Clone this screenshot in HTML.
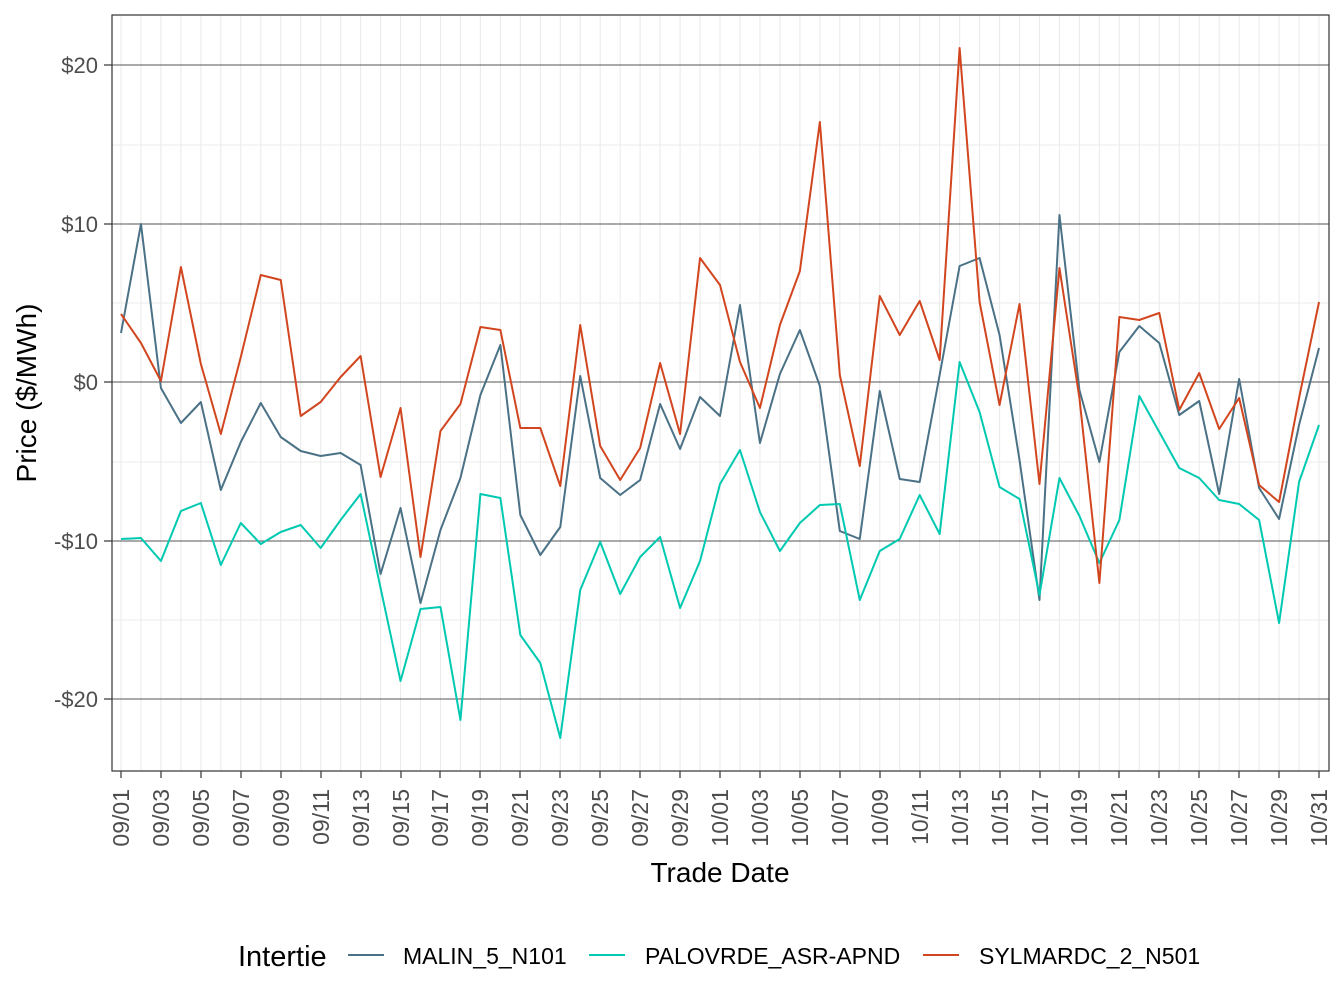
<!DOCTYPE html>
<html><head><meta charset="utf-8"><style>
body{margin:0;background:#fff}
svg{display:block;font-family:"Liberation Sans",Arial,sans-serif}
</style></head><body>
<svg width="1344" height="1008" viewBox="0 0 1344 1008" xmlns="http://www.w3.org/2000/svg">
<rect width="1344" height="1008" fill="#fff"/>
<g stroke="#ebebeb" stroke-width="1.1">
<line x1="112" x2="1329" y1="145" y2="145"/><line x1="112" x2="1329" y1="303" y2="303"/><line x1="112" x2="1329" y1="462" y2="462"/><line x1="112" x2="1329" y1="620" y2="620"/>
</g>
<g id="vg" stroke="#ebebeb" stroke-width="1.1"></g>
<script>
var g=document.getElementById('vg');for(var i=0;i<=60;i++){var x=121+19.967*i;var l=document.createElementNS('http://www.w3.org/2000/svg','line');l.setAttribute('x1',x);l.setAttribute('x2',x);l.setAttribute('y1',15);l.setAttribute('y2',771);g.appendChild(l);}
</script>
<g stroke="#555" stroke-width="0.9">
<line x1="112" x2="1329" y1="65" y2="65"/><line x1="112" x2="1329" y1="224" y2="224"/><line x1="112" x2="1329" y1="382" y2="382"/><line x1="112" x2="1329" y1="541" y2="541"/><line x1="112" x2="1329" y1="699" y2="699"/>
</g>
<g transform="translate(121,0) scale(19.967,1)" fill="none" stroke-width="2" stroke-linejoin="round">
<polyline vector-effect="non-scaling-stroke" stroke="#4a7185" points="0,333 1,224 2,388 3,423 4,402 5,490 6,442 7,403 8,437 9,451 10,456 11,453 12,465 13,574 14,508 15,603 16,530 17,478 18,395 19,345 20,515 21,555 22,527 23,376 24,478 25,495 26,480 27,404 28,449 29,397 30,416 31,305 32,443 33,374 34,330 35,386 36,531 37,539 38,391 39,479 40,482 41,375 42,266 43,258 44,335 45,460 46,600 47,215 48,390 49,462 50,352 51,326 52,343 53,415 54,401 55,494 56,379 57,488 58,519 59,425 60,348"/>
<polyline vector-effect="non-scaling-stroke" stroke="#00c9b1" points="0,539 1,538 2,561 3,511 4,503 5,565 6,523 7,544 8,532 9,525 10,548 11,520 12,494 13,588 14,681 15,609 16,607 17,720 18,494 19,498 20,635 21,663 22,738 23,590 24,542 25,594 26,557 27,537 28,608 29,561 30,484 31,450 32,512 33,551 34,523 35,505 36,504 37,600 38,551 39,539 40,495 41,534 42,362 43,412 44,487 45,499 46,595 47,478 48,516 49,563 50,520 51,396 52,432 53,468 54,478 55,500 56,504 57,520 58,623 59,482 60,425"/>
<polyline vector-effect="non-scaling-stroke" stroke="#d2461f" points="0,314 1,343 2,381 3,267 4,364 5,434 6,357 7,275 8,280 9,416 10,402 11,377 12,356 13,477 14,408 15,557 16,431 17,404 18,327 19,330 20,428 21,428 22,486 23,325 24,446 25,480 26,448 27,363 28,434 29,258 30,285 31,362 32,408 33,325 34,271 35,122 36,375 37,466 38,296 39,335 40,301 41,360 42,48 43,302 44,405 45,304 46,484 47,268 48,398 49,583 50,317 51,320 52,313 53,410 54,373 55,429 56,398 57,485 58,502 59,398 60,302"/>
</g>
<rect x="112" y="15" width="1217" height="756" fill="none" stroke="#333" stroke-width="1.2"/>
<g stroke="#333" stroke-width="1.2">
<line x1="104" x2="112" y1="65" y2="65"/><line x1="104" x2="112" y1="224" y2="224"/><line x1="104" x2="112" y1="382" y2="382"/><line x1="104" x2="112" y1="541" y2="541"/><line x1="104" x2="112" y1="699" y2="699"/>
</g>
<g fill="#4d4d4d" font-size="22" text-anchor="end">
<text x="98" y="73">$20</text><text x="98" y="232">$10</text><text x="98" y="390">$0</text><text x="98" y="549">-$10</text><text x="98" y="707">-$20</text>
</g>
<g stroke="#333" stroke-width="1.2">
<line x1="121" x2="121" y1="771" y2="778"/><line x1="161" x2="161" y1="771" y2="778"/><line x1="201" x2="201" y1="771" y2="778"/><line x1="241" x2="241" y1="771" y2="778"/><line x1="281" x2="281" y1="771" y2="778"/><line x1="321" x2="321" y1="771" y2="778"/><line x1="361" x2="361" y1="771" y2="778"/><line x1="401" x2="401" y1="771" y2="778"/><line x1="440" x2="440" y1="771" y2="778"/><line x1="480" x2="480" y1="771" y2="778"/><line x1="520" x2="520" y1="771" y2="778"/><line x1="560" x2="560" y1="771" y2="778"/><line x1="600" x2="600" y1="771" y2="778"/><line x1="640" x2="640" y1="771" y2="778"/><line x1="680" x2="680" y1="771" y2="778"/><line x1="720" x2="720" y1="771" y2="778"/><line x1="760" x2="760" y1="771" y2="778"/><line x1="800" x2="800" y1="771" y2="778"/><line x1="840" x2="840" y1="771" y2="778"/><line x1="880" x2="880" y1="771" y2="778"/><line x1="920" x2="920" y1="771" y2="778"/><line x1="960" x2="960" y1="771" y2="778"/><line x1="1000" x2="1000" y1="771" y2="778"/><line x1="1040" x2="1040" y1="771" y2="778"/><line x1="1079" x2="1079" y1="771" y2="778"/><line x1="1119" x2="1119" y1="771" y2="778"/><line x1="1159" x2="1159" y1="771" y2="778"/><line x1="1199" x2="1199" y1="771" y2="778"/><line x1="1239" x2="1239" y1="771" y2="778"/><line x1="1279" x2="1279" y1="771" y2="778"/><line x1="1319" x2="1319" y1="771" y2="778"/>
</g>
<g fill="#4d4d4d" font-size="23" text-anchor="end">
<text transform="translate(129,789) rotate(-90)">09/01</text>
<text transform="translate(169,789) rotate(-90)">09/03</text>
<text transform="translate(209,789) rotate(-90)">09/05</text>
<text transform="translate(249,789) rotate(-90)">09/07</text>
<text transform="translate(289,789) rotate(-90)">09/09</text>
<text transform="translate(329,789) rotate(-90)">09/11</text>
<text transform="translate(369,789) rotate(-90)">09/13</text>
<text transform="translate(409,789) rotate(-90)">09/15</text>
<text transform="translate(448,789) rotate(-90)">09/17</text>
<text transform="translate(488,789) rotate(-90)">09/19</text>
<text transform="translate(528,789) rotate(-90)">09/21</text>
<text transform="translate(568,789) rotate(-90)">09/23</text>
<text transform="translate(608,789) rotate(-90)">09/25</text>
<text transform="translate(648,789) rotate(-90)">09/27</text>
<text transform="translate(688,789) rotate(-90)">09/29</text>
<text transform="translate(728,789) rotate(-90)">10/01</text>
<text transform="translate(768,789) rotate(-90)">10/03</text>
<text transform="translate(808,789) rotate(-90)">10/05</text>
<text transform="translate(848,789) rotate(-90)">10/07</text>
<text transform="translate(888,789) rotate(-90)">10/09</text>
<text transform="translate(928,789) rotate(-90)">10/11</text>
<text transform="translate(968,789) rotate(-90)">10/13</text>
<text transform="translate(1008,789) rotate(-90)">10/15</text>
<text transform="translate(1048,789) rotate(-90)">10/17</text>
<text transform="translate(1087,789) rotate(-90)">10/19</text>
<text transform="translate(1127,789) rotate(-90)">10/21</text>
<text transform="translate(1167,789) rotate(-90)">10/23</text>
<text transform="translate(1207,789) rotate(-90)">10/25</text>
<text transform="translate(1247,789) rotate(-90)">10/27</text>
<text transform="translate(1287,789) rotate(-90)">10/29</text>
<text transform="translate(1327,789) rotate(-90)">10/31</text>
</g>
<text x="720" y="882" font-size="28" text-anchor="middle" fill="#000">Trade Date</text>
<text transform="translate(36,393) rotate(-90)" font-size="28" text-anchor="middle" fill="#000">Price ($/MWh)</text>
<text x="238" y="966" font-size="29" fill="#000">Intertie</text>
<line x1="348" x2="384" y1="955" y2="955" stroke="#4a7185" stroke-width="2"/>
<text x="403" y="964" font-size="23" fill="#000">MALIN_5_N101</text>
<line x1="589" x2="625" y1="955" y2="955" stroke="#00c9b1" stroke-width="2"/>
<text x="645" y="964" font-size="23" fill="#000">PALOVRDE_ASR-APND</text>
<line x1="923" x2="959" y1="955" y2="955" stroke="#d2461f" stroke-width="2"/>
<text x="979" y="964" font-size="23" fill="#000">SYLMARDC_2_N501</text>
</svg>
</body></html>
